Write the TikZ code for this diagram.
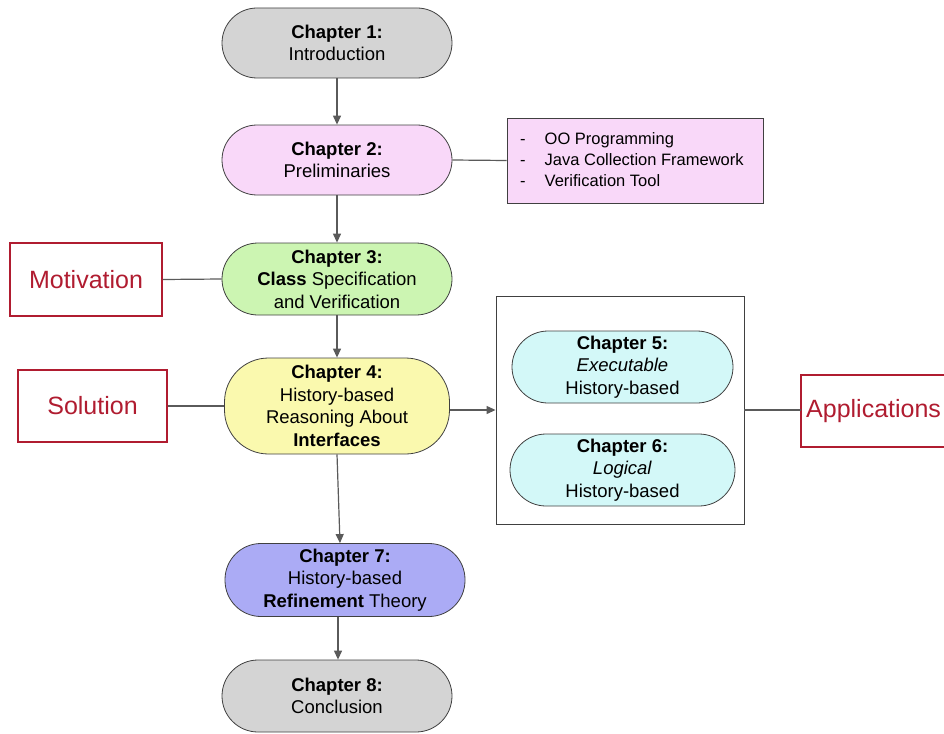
\documentclass[tikz,border=0pt]{standalone}
\usepackage{fontspec}
\setmainfont{Liberation Sans}
\usetikzlibrary{arrows.meta}
\definecolor{cgray}{HTML}{D4D4D4}
\definecolor{cpink}{HTML}{F9D8F9}
\definecolor{cgreen}{HTML}{CCF5B2}
\definecolor{cyellow}{HTML}{FAF9AE}
\definecolor{ccyan}{HTML}{D3F8F8}
\definecolor{cblue}{HTML}{ABABF5}
\definecolor{cred}{HTML}{B01C30}
\definecolor{cline}{HTML}{5A5A5A}
\tikzset{
  chap/.style={draw=black!75, line width=0.8pt, align=center, inner sep=0pt,
    font=\fontsize{18.5}{22.5}\selectfont, minimum width=230pt, minimum height=70pt},
  redbox/.style={draw=cred, line width=1.4pt, text=cred, inner sep=0pt,
    font=\fontsize{25}{28}\selectfont},
  conn/.style={draw=cline, line width=1.2pt},
  arr/.style={conn, -{Triangle[length=9pt,width=8pt]}}
}
\begin{document}
\begin{tikzpicture}[x=1pt,y=-1pt]
\useasboundingbox (0,0) rectangle (944,733);
\node[chap, fill=cgray, rounded corners=35pt] (c1) at (337,43) {\textbf{Chapter 1:}\\Introduction};
\node[chap, fill=cpink, rounded corners=35pt] (c2) at (337,160) {\textbf{Chapter 2:}\\Preliminaries};
\node[chap, fill=cgreen, rounded corners=36pt, minimum height=72pt] (c3) at (337,279) {\textbf{Chapter 3:}\\\textbf{Class} Specification\\and Verification};
\node[chap, fill=cyellow, rounded corners=44pt, minimum width=225pt, minimum height=96pt] (c4) at (337,406) {\textbf{Chapter 4:}\\History-based\\Reasoning About\\\textbf{Interfaces}};
\node[chap, fill=cblue, rounded corners=36pt, minimum width=240pt, minimum height=73pt] (c7) at (345,580) {\textbf{Chapter 7:}\\History-based\\\textbf{Refinement} Theory};
\node[chap, fill=cgray, rounded corners=36pt, minimum height=72pt] (c8) at (337,696) {\textbf{Chapter 8:}\\Conclusion};
\node[draw=black!75, line width=0.8pt, fill=cpink, minimum width=256pt, minimum height=85pt, inner sep=0pt] (pre) at (635,160.5) {};
\node[anchor=west, align=left, font=\fontsize{16.5}{21}\selectfont, inner sep=0pt] (prel) at (520,160) {-\hspace{19pt}OO Programming\\-\hspace{19pt}Java Collection Framework\\-\hspace{19pt}Verification Tool};
\node[redbox, minimum width=152pt, minimum height=73pt] (mot) at (86,279.5) {Motivation};
\node[redbox, minimum width=149pt, minimum height=72pt] (sol) at (92.5,406) {Solution};
\node[draw=black!75, line width=0.9pt, minimum width=248pt, minimum height=228pt, inner sep=0pt] (grp) at (620,410) {};
\node[chap, fill=ccyan, rounded corners=36pt, minimum width=221pt, minimum height=72pt] (c5) at (622.5,367) {\textbf{Chapter 5:}\\\textit{Executable}\\History-based};
\node[chap, fill=ccyan, rounded corners=36pt, minimum width=225pt, minimum height=72pt] (c6) at (622.5,470) {\textbf{Chapter 6:}\\\textit{Logical}\\History-based};
\draw[redbox] (960,375) -- (801,375) -- (801,447) -- (960,447);
\node[text=cred, font=\fontsize{25}{28}\selectfont, anchor=west, inner sep=0pt] (app) at (806,411) {Applications};
\coordinate (appl) at (801,410);
\draw[arr] (c1) -- (c2);
\draw[arr] (c2) -- (c3);
\draw[arr] (c3) -- (c4);
\draw[arr] (c4.south) -- (c7.north -| 340,0);
\draw[arr] (c7.south -| 338,0) -- (c8.north -| 338,0);
\draw[conn] (c2.east) -- (pre.west);
\draw[conn] (mot.east) -- (c3.west);
\draw[conn] (sol.east) -- (c4.west);
\draw[arr] (c4.east |- 0,410) -- (grp.west);
\draw[conn] (grp.east) -- (appl);
\end{tikzpicture}
\end{document}
